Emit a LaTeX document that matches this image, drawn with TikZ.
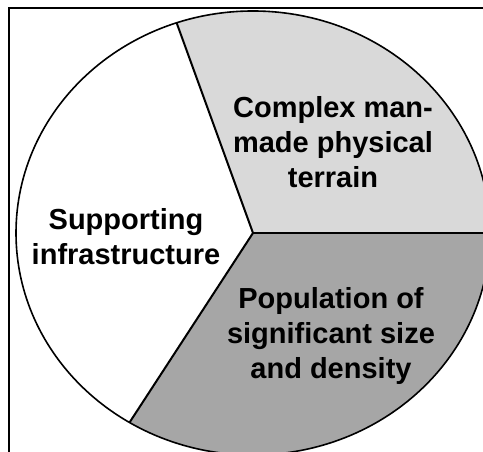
\documentclass[tikz,border=0pt]{standalone}
\usepackage{fontspec}
\setmainfont{Liberation Sans}
\usetikzlibrary{calc}
\definecolor{lightsec}{HTML}{D9D9D9}
\definecolor{darksec}{HTML}{A6A6A6}
\begin{document}
\begin{tikzpicture}[x=1pt,y=1pt,
  label/.style={align=center,font=\fontsize{29}{35}\selectfont\bfseries,inner sep=0pt},
  rim/.style={line width=1.6pt},
  spoke/.style={line width=2pt}]
\useasboundingbox (0,0) rectangle (483,452);
\fill[white] (0,0) rectangle (483,452);
\clip (0,0) rectangle (483,452);
\coordinate (C) at (253,219);
\coordinate (T) at ($(C)+(108.8:237 and 222)$);
\coordinate (R) at ($(C)+(0:237 and 222)$);
\coordinate (B) at ($(C)+(238.6:237 and 222)$);
% sectors
\fill[lightsec] (C) -- (R) arc[start angle=0,end angle=108.8,x radius=237pt,y radius=222pt] -- cycle;
\fill[darksec] (C) -- (B) arc[start angle=238.6,end angle=360,x radius=237pt,y radius=222pt] -- cycle;
% outline
\draw[rim] (C) ellipse[x radius=237pt,y radius=222pt];
\draw[spoke] (C) -- (T);
\draw[spoke] (C) -- (R);
\draw[spoke] (C) -- (B);
% frame
\draw[line width=2.5pt] (9,-20) rectangle (520,444);
% labels
\node[label] (terrain) at (333,310) {Complex man-\\made physical\\terrain};
\node[label] (infra) at (126,215) {Supporting\\infrastructure};
\node[label] (pop) at (331,116) {Population of\\significant size\\and density};
\end{tikzpicture}
\end{document}
